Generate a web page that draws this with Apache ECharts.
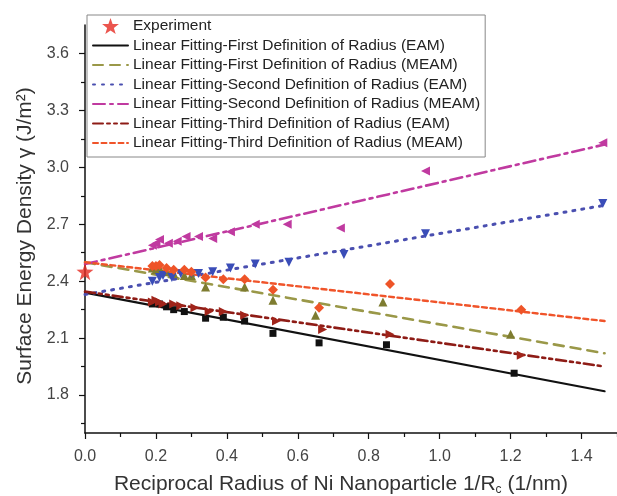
<!DOCTYPE html>
<html>
<head>
<meta charset="utf-8">
<script src="https://cdn.jsdelivr.net/npm/echarts@6/dist/echarts.min.js"></script>
<style>
  html, body { margin: 0; padding: 0; background: #fff; }
  #chart { width: 617px; height: 496px; }
</style>
</head>
<body>
<div id="chart"></div>
<script>
// tick positions
const xMajorTicks = [0, 0.2, 0.4, 0.6, 0.8, 1.0, 1.2, 1.4];
const xMinorTicks = [0.1, 0.3, 0.5, 0.7, 0.9, 1.1, 1.3, 1.5];
const yMajorTicks = [1.8, 2.1, 2.4, 2.7, 3.0, 3.3, 3.6];
const yMinorTicks = [1.65, 1.95, 2.25, 2.55, 2.85, 3.15, 3.45];

// experiment
const experiment = [[0, 2.45]];

// simulated points, [1/R, gamma]
const firstEAM = [[0.19, 2.28], [0.21, 2.28], [0.23, 2.265], [0.25, 2.25], [0.28, 2.24], [0.34, 2.205],
  [0.39, 2.21], [0.45, 2.19], [0.53, 2.125], [0.66, 2.075], [0.85, 2.065], [1.21, 1.915]];
const firstMEAM = [[0.19, 2.47], [0.2, 2.46], [0.21, 2.47], [0.23, 2.45], [0.25, 2.44], [0.28, 2.43],
  [0.30, 2.43], [0.34, 2.37], [0.45, 2.37], [0.53, 2.30], [0.65, 2.22], [0.84, 2.29], [1.20, 2.12]];
const secondEAM = [[0.19, 2.40], [0.21, 2.42], [0.22, 2.43], [0.245, 2.42], [0.27, 2.44], [0.30, 2.44],
  [0.32, 2.44], [0.36, 2.45], [0.41, 2.47], [0.48, 2.49], [0.575, 2.50], [0.73, 2.54], [0.96, 2.65], [1.46, 2.81]];
const secondMEAM = [[0.19, 2.59], [0.20, 2.60], [0.21, 2.62], [0.235, 2.60], [0.26, 2.61], [0.285, 2.635],
  [0.32, 2.635], [0.36, 2.625], [0.41, 2.66], [0.48, 2.70], [0.57, 2.70], [0.72, 2.68], [0.96, 2.98], [1.46, 3.13]];
const thirdEAM = [[0.19, 2.29], [0.2, 2.30], [0.21, 2.29], [0.22, 2.28], [0.25, 2.28], [0.27, 2.27],
  [0.31, 2.26], [0.35, 2.24], [0.39, 2.24], [0.45, 2.22], [0.54, 2.19], [0.67, 2.145], [0.86, 2.12], [1.23, 2.01]];
const thirdMEAM = [[0.19, 2.48], [0.2, 2.48], [0.21, 2.485], [0.23, 2.47], [0.25, 2.46], [0.28, 2.46],
  [0.30, 2.45], [0.34, 2.42], [0.39, 2.41], [0.45, 2.41], [0.53, 2.355], [0.66, 2.26], [0.86, 2.385], [1.23, 2.25]];

// fitted lines (end points)
const fitFirstEAM = [[0, 2.34], [1.465, 1.82]];
const fitFirstMEAM = [[0, 2.50], [1.465, 2.02]];
const fitSecondEAM = [[0, 2.33], [1.465, 2.80]];
const fitSecondMEAM = [[0, 2.49], [1.465, 3.12]];
const fitThirdEAM = [[0, 2.345], [1.465, 1.95]];
const fitThirdMEAM = [[0, 2.50], [1.465, 2.19]];

const legendNames = [
  'Experiment',
  'Linear Fitting-First Definition of Radius (EAM)',
  'Linear Fitting-First Definition of Radius (MEAM)',
  'Linear Fitting-Second Definition of Radius (EAM)',
  'Linear Fitting-Second Definition of Radius (MEAM)',
  'Linear Fitting-Third Definition of Radius (EAM)',
  'Linear Fitting-Third Definition of Radius (MEAM)'
];

const FONT = 'Liberation Sans, Arial, sans-serif';
const STAR = 'path://M0,-10 L2.35,-3.24 L9.51,-3.09 L3.8,1.24 L5.88,8.09 L0,4 L-5.88,8.09 L-3.8,1.24 L-9.51,-3.09 L-2.35,-3.24 Z';

function fitLine(name, data, color, type, width) {
  return {
    name: name,
    type: 'line',
    data: data,
    symbol: 'none',
    lineStyle: { color: color, type: type, width: width, cap: 'round' },
    itemStyle: { color: color },
    z: 2
  };
}

function points(name, data, color, symbol, size, rotate) {
  return {
    name: name,
    type: 'scatter',
    data: data,
    symbol: symbol,
    symbolSize: size,
    symbolRotate: rotate || 0,
    itemStyle: { color: color, opacity: 1 },
    z: 3
  };
}

const chart = echarts.init(document.getElementById('chart'));

const option = {
  animation: false,
  backgroundColor: '#fff',
  textStyle: { fontFamily: FONT },
  grid: { left: 85, top: 25, right: 0, bottom: 63, containLabel: false, outerBoundsMode: 'none' },
  legend: {
    // line entries: keep the dashed line, hide the marker
    data: legendNames.map((n, i) => (i === 0 ? { name: n }
      : { name: n, itemStyle: { opacity: 0, color: 'rgba(0,0,0,0)', borderWidth: 0 } })),
    orient: 'vertical',
    left: 87,
    top: 15,
    itemWidth: 35,
    itemHeight: 16,
    itemGap: 3.5,
    padding: [3, 5, 6, 5],
    backgroundColor: '#fff',
    borderColor: '#888',
    borderWidth: 1,
    textStyle: { fontFamily: FONT, fontSize: 15.5, color: '#222' }
  },
  xAxis: [
    {
      type: 'value',
      min: 0,
      max: 1.5,
      position: 'bottom',
      name: 'Reciprocal Radius of Ni Nanoparticle 1/R{sub|c} (1/nm)',
      nameLocation: 'middle',
      nameGap: 40,
      nameTextStyle: {
        fontFamily: FONT, fontSize: 21, color: '#333', padding: [0, 20, 0, 0],
        rich: { sub: { fontFamily: FONT, fontSize: 12, color: '#333', padding: [11, 0, 0, 0] } }
      },
      axisLine: { show: true, lineStyle: { color: '#111', width: 1.5 } },
      axisTick: { show: true, inside: false, length: 6, customValues: xMajorTicks, lineStyle: { color: '#111', width: 1.2 } },
      axisLabel: {
        customValues: xMajorTicks, margin: 16, fontSize: 16, color: '#444', fontFamily: FONT,
        formatter: v => v.toFixed(1)
      },
      splitLine: { show: false }
    },
    {
      type: 'value',
      min: 0,
      max: 1.5,
      position: 'bottom',
      axisLine: { show: false },
      axisTick: { show: true, inside: false, length: 4, customValues: xMinorTicks, lineStyle: { color: '#111', width: 1.2 } },
      axisLabel: { show: false },
      splitLine: { show: false }
    }
  ],
  yAxis: [
    {
      type: 'value',
      min: 1.6,
      max: 3.75,
      position: 'left',
      name: 'Surface Energy Density γ (J/m²)',
      nameLocation: 'middle',
      nameGap: 39,
      nameTextStyle: { fontFamily: FONT, fontSize: 21, color: '#333', padding: [0, 14, 0, 0] },
      axisLine: { show: true, lineStyle: { color: '#111', width: 1.5 } },
      axisTick: { show: true, inside: false, length: 6, customValues: yMajorTicks, lineStyle: { color: '#111', width: 1.2 } },
      axisLabel: {
        customValues: yMajorTicks, margin: 16, fontSize: 16, color: '#444', fontFamily: FONT,
        formatter: v => v.toFixed(1)
      },
      splitLine: { show: false }
    },
    {
      type: 'value',
      min: 1.6,
      max: 3.75,
      position: 'left',
      axisLine: { show: false },
      axisTick: { show: true, inside: false, length: 4, customValues: yMinorTicks, lineStyle: { color: '#111', width: 1.2 } },
      axisLabel: { show: false },
      splitLine: { show: false }
    }
  ],
  series: [
    fitLine(legendNames[1], fitFirstEAM, '#111', 'solid', 2.2),
    fitLine(legendNames[2], fitFirstMEAM, '#9a9848', [10, 7], 2.6),
    fitLine(legendNames[3], fitSecondEAM, '#4a4fb0', [2, 7], 3),
    fitLine(legendNames[4], fitSecondMEAM, '#c03aa0', [12, 5, 3, 5], 2.6),
    fitLine(legendNames[5], fitThirdEAM, '#8e1c16', [10, 4, 3, 4, 3, 4], 2.6),
    fitLine(legendNames[6], fitThirdMEAM, '#f0542a', [5, 3.5], 2.4),
    points('first EAM points', firstEAM, '#111', 'rect', 7),
    points('first MEAM points', firstMEAM, '#7e7c30', 'triangle', 9),
    points('second EAM points', secondEAM, '#3a4db8', 'triangle', 9, 180),
    points('second MEAM points', secondMEAM, '#c03aa0', 'triangle', 9, 90),
    points('third EAM points', thirdEAM, '#a0241a', 'triangle', 9, -90),
    points('third MEAM points', thirdMEAM, '#ee5428', 'diamond', 10),
    {
      name: legendNames[0],
      type: 'scatter',
      data: experiment,
      symbol: STAR,
      symbolSize: 17,
      itemStyle: { color: '#e62a22' },
      z: 4
    }
  ]
};

chart.setOption(option);
</script>
</body>
</html>
